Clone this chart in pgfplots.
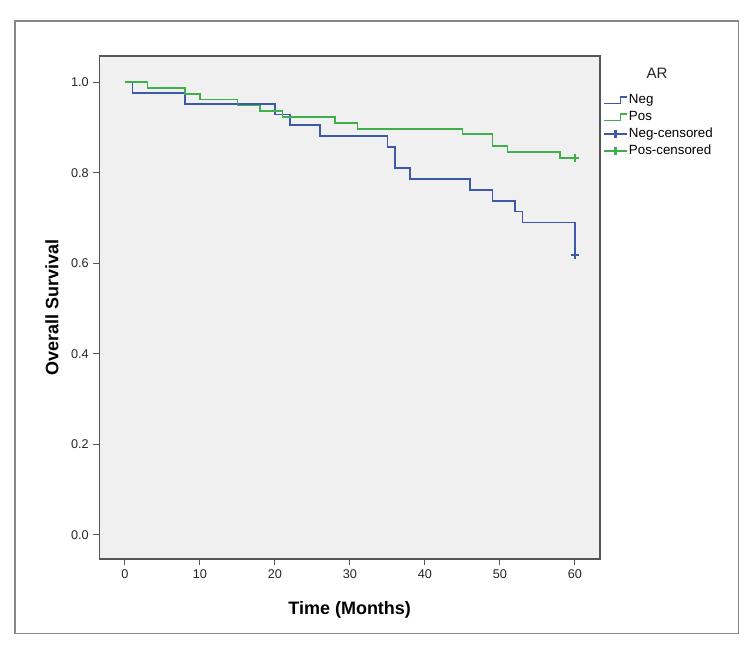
\documentclass[border=0pt]{standalone}
\usepackage{pgfplots}
\pgfplotsset{compat=1.18}
\usepackage{fontspec}
\setmainfont{Liberation Sans}
\definecolor{negc}{RGB}{62,88,172}
\definecolor{posc}{RGB}{62,175,75}
\definecolor{plotbg}{RGB}{240,240,240}
\definecolor{axgray}{RGB}{85,85,85}
\definecolor{framegray}{RGB}{135,135,135}
\pgfplotsset{steplegend/.style={legend image code/.code={\draw[##1] (0cm,-0.088cm) -- (0.435cm,-0.088cm) -- (0.435cm,0.088cm) -- (0.6cm,0.088cm);}}}
\begin{document}
\begin{tikzpicture}
\fill[white] (0,0) rectangle (565.5pt,-486.75pt);
\draw[framegray, line width=0.9pt] (11.25pt,-15.75pt) rectangle (553.7pt,-475pt);
\begin{axis}[
  at={(74.5pt,-42pt)}, anchor=north west,
  scale only axis, width=375.5pt, height=377.25pt,
  xmin=-3.4, xmax=63.36, ymin=-0.0537, ymax=1.058,
  axis background/.style={fill=plotbg},
  axis line style={axgray, line width=0.9pt},
  xtick={0,10,20,30,40,50,60},
  ytick={0,0.2,0.4,0.6,0.8,1.0},
  yticklabel style={/pgf/number format/.cd, fixed, fixed zerofill, precision=1},
  /pgf/number format/assume math mode=true,
  tick label style={font=\fontsize{9.5}{11}\selectfont, text=black!85},
  tick align=outside, major tick length=4.5pt,
  tick style={axgray, line width=0.9pt},
  xtick pos=bottom, ytick pos=left,
  xlabel={\textbf{Time (Months)}},
  ylabel={\textbf{Overall Survival}},
  label style={font=\fontsize{13.5}{16}\selectfont},
  xlabel style={at={(axis description cs:0.5,-0.1113)}, anchor=base},
  ylabel style={at={(axis description cs:-0.0945,0.5)}, anchor=center},
  legend cell align=left,
  legend style={at={(axis description cs:1.006,0.928)}, anchor=north west,
    draw=none, fill=none, font=\fontsize{10}{12}\selectfont,
    inner sep=0pt, row sep=1.25pt,
    nodes={inner sep=1pt, text height=7.5pt, text depth=2pt}},
]
\addplot[const plot, negc, line width=1.2pt, steplegend]
  coordinates {(0,1.0) (1,0.976) (8,0.952) (20,0.929) (22,0.905) (26,0.881) (35,0.857) (36,0.810) (38,0.786) (46,0.762) (49,0.738) (52,0.714) (53,0.690) (60,0.619)};
\addlegendentry{Neg}
\addplot[const plot, posc, line width=1.2pt, steplegend]
  coordinates {(0,1.0) (3,0.987) (8,0.974) (10,0.962) (15,0.949) (18,0.936) (21,0.923) (28,0.910) (31,0.897) (45,0.885) (49,0.859) (51,0.846) (58,0.833) (60,0.833)};
\addlegendentry{Pos}
\addplot[negc, line width=1.2pt, mark=+, mark size=3.2pt, mark options={line width=1.6pt}]
  coordinates {(60,0.619)};
\addlegendentry{Neg-censored}
\addplot[posc, line width=1.2pt, mark=+, mark size=3.2pt, mark options={line width=1.6pt}]
  coordinates {(60,0.833)};
\addlegendentry{Pos-censored}
\end{axis}
\node[font=\fontsize{11.3}{13}\selectfont, text=black!85, anchor=base] at (492.75pt,-58.8pt) {AR};
\end{tikzpicture}
\end{document}
